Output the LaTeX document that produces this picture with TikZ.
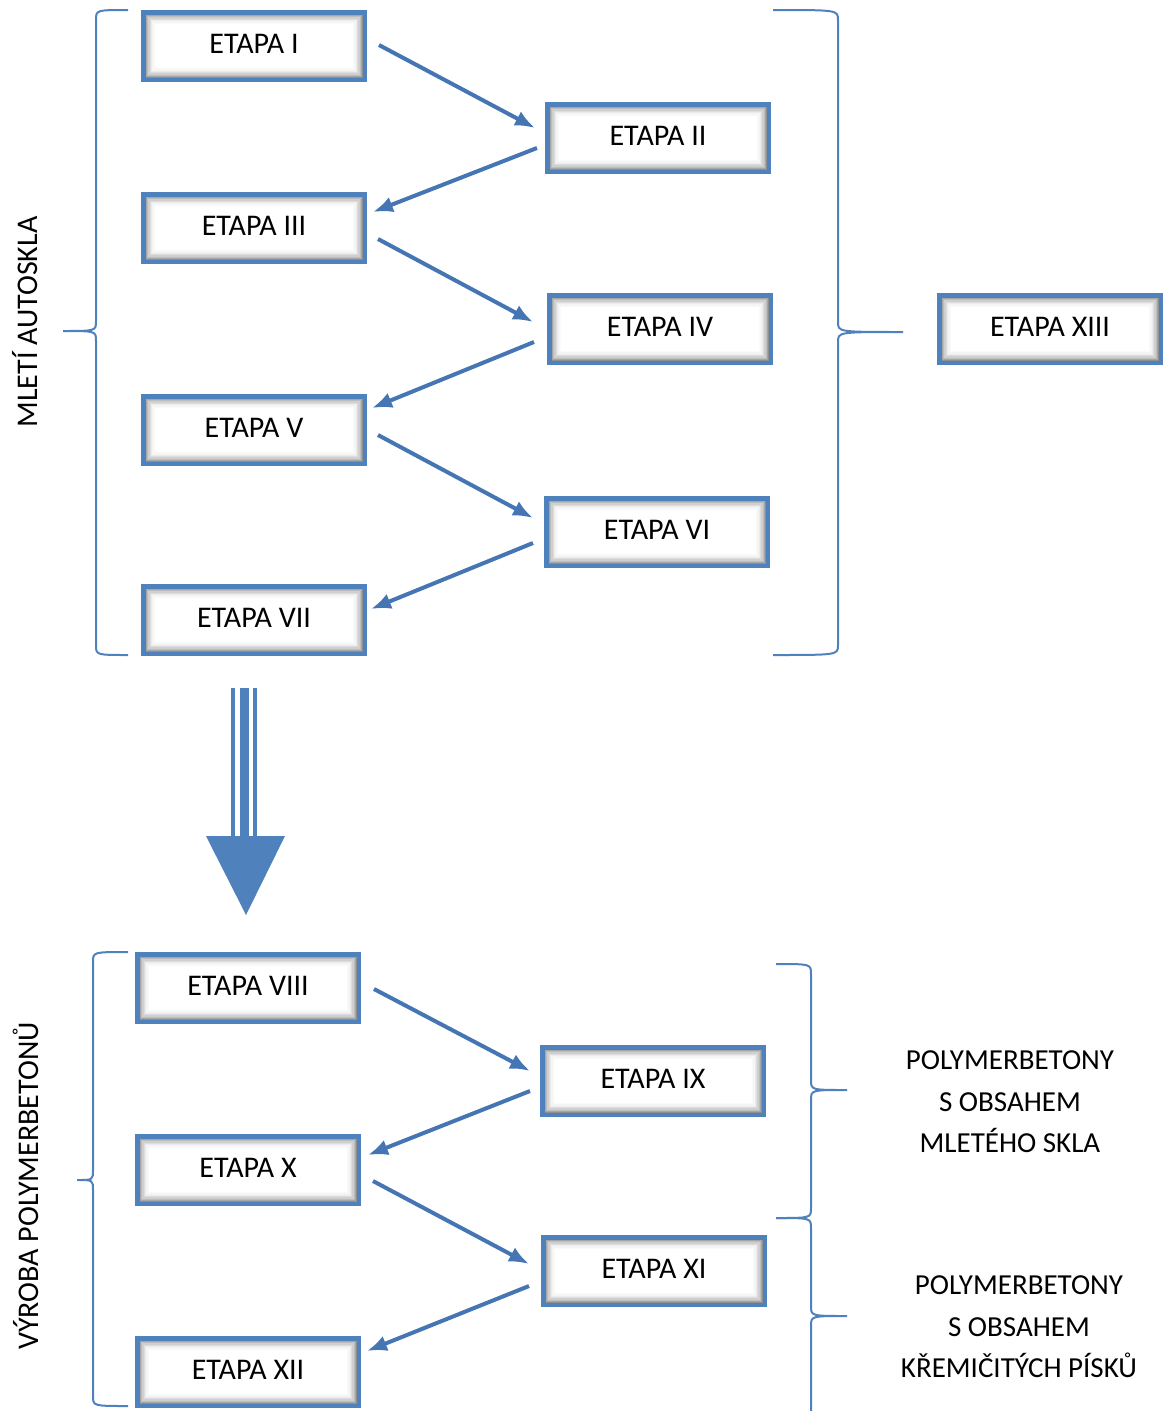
\documentclass[tikz,border=0pt]{standalone}
\usepackage{fontspec}
\setmainfont{Carlito}
\usepackage{xcolor}
\usepackage{tikz}
\usetikzlibrary{arrows.meta}

\definecolor{boxblue}{HTML}{4F81BD}
\definecolor{linkblue}{HTML}{4675B3}

% curly bracket: end x, spine x, tip x, top y, tip y, bottom y
\newcommand{\curlybrace}[6]{%
  \draw[grouping] (#1,#4) .. controls (#2,#4) .. (#2,{#4+10}) -- (#2,{#5-10})
    .. controls (#2,#5) .. (#3,#5) .. controls (#2,#5) .. (#2,{#5+10})
    -- (#2,{#6-10}) .. controls (#2,#6) .. (#1,#6);}

\begin{document}
\begin{tikzpicture}[
    x=1pt, y=-1pt,
    every node/.style={font=\fontsize{30}{36}\selectfont},
    etapa/.style={rectangle, draw=boxblue, line width=4.5pt, fill=white, minimum width=221.5pt, minimum height=67.5pt, text depth=5pt,
        path picture={
            \foreach \k in {0,...,10}{
                \pgfmathtruncatemacro{\g}{55*(1-\k/10)^2}
                \fill[black!\g] ([shift={(\k*1.3pt,-\k*1.3pt)}]path picture bounding box.north west) rectangle ([shift={(-\k*1.3pt,\k*1.3pt)}]path picture bounding box.south east);
            }
        }},
    link/.style={-{Latex[length=20pt,width=16pt]}, draw=linkblue, line width=4pt},
    grouping/.style={draw=boxblue, line width=2pt},
    side_label/.style={rotate=90},
    group_label/.style={align=center, font=\fontsize{29}{41.5}\selectfont}
]
\useasboundingbox (0,0) rectangle (1163,1411);

% Nodes: grinding
\node[etapa] (e1) at (254,46) {ETAPA I};
\node[etapa] (e2) at (658,138) {ETAPA II};
\node[etapa] (e3) at (254,228) {ETAPA III};
\node[etapa] (e4) at (660,329) {ETAPA IV};
\node[etapa] (e5) at (254,430) {ETAPA V};
\node[etapa] (e6) at (657,532) {ETAPA VI};
\node[etapa] (e7) at (254,620) {ETAPA VII};
\node[etapa] (e13) at (1050,329) {ETAPA XIII};

% Nodes: production
\node[etapa] (e8) at (248,988) {ETAPA VIII};
\node[etapa] (e9) at (653,1081) {ETAPA IX};
\node[etapa] (e10) at (248,1170) {ETAPA X};
\node[etapa] (e11) at (654,1271) {ETAPA XI};
\node[etapa] (e12) at (248,1372) {ETAPA XII};

% Edges (zig-zag)
\draw[link] ([shift={(12,-1)}]e1.east) -- ([shift={(-10,-10)}]e2.west);
\draw[link] ([shift={(-8,10)}]e2.west) -- ([shift={(6,-16)}]e3.east);
\draw[link] ([shift={(11,11)}]e3.east) -- ([shift={(-14,-7)}]e4.west);
\draw[link] ([shift={(-13,13)}]e4.west) -- ([shift={(5,-22)}]e5.east);
\draw[link] ([shift={(11,5)}]e5.east) -- ([shift={(-11,-14)}]e6.west);
\draw[link] ([shift={(-11,11)}]e6.west) -- ([shift={(4,-11)}]e7.east);
\draw[link] ([shift={(13,1)}]e8.east) -- ([shift={(-10,-10)}]e9.west);
\draw[link] ([shift={(-10,10)}]e9.west) -- ([shift={(7,-15)}]e10.east);
\draw[link] ([shift={(12,11)}]e10.east) -- ([shift={(-12,-7)}]e11.west);
\draw[link] ([shift={(-12,15)}]e11.west) -- ([shift={(6,-21)}]e12.east);

% Big arrow between the two parts
\fill[boxblue] (231,688) rectangle (235,836);
\fill[boxblue] (240,688) rectangle (249,836);
\fill[boxblue] (253,688) rectangle (257,836);
\fill[boxblue] (206,836) -- (285,836) -- (246,915) -- cycle;

% Brackets
\curlybrace{128}{96}{63}{10}{331}{655}
\curlybrace{773}{838}{903}{10}{332}{655}
\curlybrace{128}{93}{77}{952}{1180}{1406}
\curlybrace{776}{811}{847}{964}{1090}{1218}
\curlybrace{776}{811}{847}{1218}{1316}{1470}

% Labels
\node[side_label] (l1) at (25,322) {MLETÍ AUTOSKLA};
\node[side_label] (l2) at (26,1186) {VÝROBA POLYMERBETONŮ};
\node[group_label] (g1) at (1010,1102) {POLYMERBETONY\\S OBSAHEM\\MLETÉHO SKLA};
\node[group_label] (g2) at (1019,1327) {POLYMERBETONY\\S OBSAHEM\\KŘEMIČITÝCH PÍSKŮ};

\end{tikzpicture}
\end{document}
